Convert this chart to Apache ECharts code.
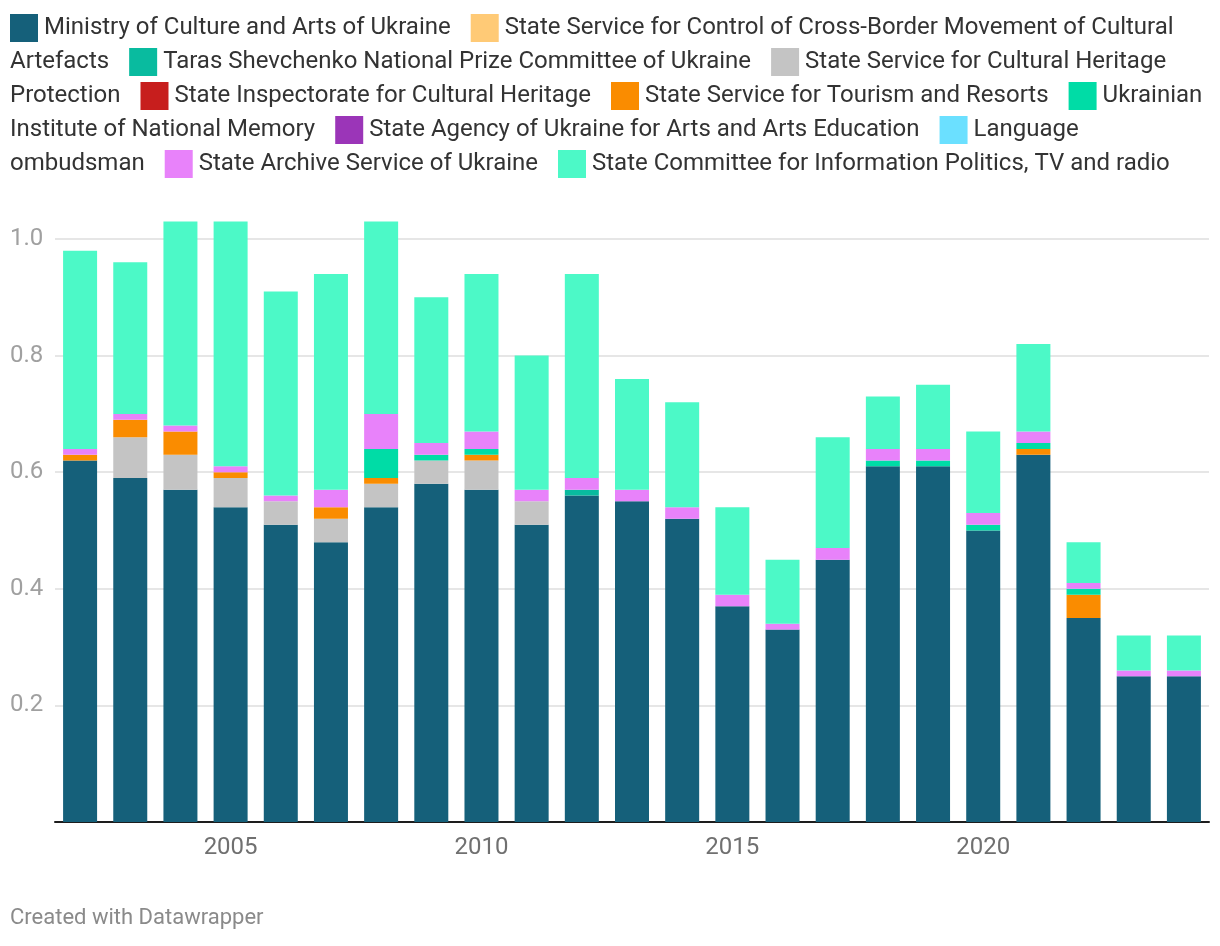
<!DOCTYPE html>
<html>
<head>
<meta charset="utf-8">
<script src="https://cdn.jsdelivr.net/npm/echarts@6/dist/echarts.min.js"></script>
<style>
html,body{margin:0;padding:0;background:#fff;}
#chart{width:1220px;height:946px;}
</style>
</head>
<body>
<div id="chart"></div>
<script>
const years = ['2002','2003','2004','2005','2006','2007','2008','2009','2010','2011','2012','2013','2014','2015','2016','2017','2018','2019','2020','2021','2022','2023','2024'];
const yTicks = [0, 0.2, 0.4, 0.6, 0.8, 1.0];

const seriesNames = [
  'Ministry of Culture and Arts of Ukraine',
  'State Service for Control of Cross-Border Movement of Cultural Artefacts',
  'Taras Shevchenko National Prize Committee of Ukraine',
  'State Service for Cultural Heritage Protection',
  'State Inspectorate for Cultural Heritage',
  'State Service for Tourism and Resorts',
  'Ukrainian Institute of National Memory',
  'State Agency of Ukraine for Arts and Arts Education',
  'Language ombudsman',
  'State Archive Service of Ukraine',
  'State Committee for Information Politics, TV and radio'
];
const seriesColors = ['#15607a','#ffca76','#09bb9f','#c4c4c4','#c71e1d','#fa8c00','#00dca6','#9b35b8','#6be0ff','#e882fa','#4cf9c7'];

const ministry   = [0.62,0.59,0.57,0.54,0.51,0.48,0.54,0.58,0.57,0.51,0.56,0.55,0.52,0.37,0.33,0.45,0.61,0.61,0.50,0.63,0.35,0.25,0.25];
const crossBorder= [0,0,0,0,0,0,0,0,0,0,0,0,0,0,0,0,0,0,0,0,0,0,0];
const shevchenko = [0,0,0,0,0,0,0,0,0,0,0.01,0,0,0,0,0,0,0,0,0,0,0,0];
const heritage   = [0,0.07,0.06,0.05,0.04,0.04,0.04,0.04,0.05,0.04,0,0,0,0,0,0,0,0,0,0,0,0,0];
const inspectorate=[0,0,0,0,0,0,0,0,0,0,0,0,0,0,0,0,0,0,0,0,0,0,0];
const tourism    = [0.01,0.03,0.04,0.01,0,0.02,0.01,0,0.01,0,0,0,0,0,0,0,0,0,0,0.01,0.04,0,0];
const memory     = [0,0,0,0,0,0,0.05,0.01,0.01,0,0,0,0,0,0,0,0.01,0.01,0.01,0.01,0.01,0,0];
const artsAgency = [0,0,0,0,0,0,0,0,0,0,0,0,0,0,0,0,0,0,0,0,0,0,0];
const ombudsman  = [0,0,0,0,0,0,0,0,0,0,0,0,0,0,0,0,0,0,0,0,0,0,0];
const archive    = [0.01,0.01,0.01,0.01,0.01,0.03,0.06,0.02,0.03,0.02,0.02,0.02,0.02,0.02,0.01,0.02,0.02,0.02,0.02,0.02,0.01,0.01,0.01];
const infoCommittee=[0.34,0.26,0.35,0.42,0.35,0.37,0.33,0.25,0.27,0.23,0.35,0.19,0.18,0.15,0.11,0.19,0.09,0.11,0.14,0.15,0.07,0.06,0.06];

const seriesData = [ministry, crossBorder, shevchenko, heritage, inspectorate, tourism, memory, artsAgency, ombudsman, archive, infoCommittee];

const FONT = 'Roboto, "Noto Sans", sans-serif';
const LEG_FS = 24;
const LEG_W = 1198;
const SQ_W = 28, GAP1 = 6, GAP2 = 20;

// Legend as flowing rich text (Datawrapper style), wrapped by measuring words
const mctx = document.createElement('canvas').getContext('2d');
mctx.font = LEG_FS + 'px ' + FONT;
const mw = s => mctx.measureText(s).width;

const rich = {
  t: { fontSize: LEG_FS, fontFamily: FONT, fill: '#333333', lineHeight: 34 },
  g1: { width: GAP1, height: 28, lineHeight: 34 },
  g2: { width: GAP2, height: 28, lineHeight: 34 }
};
seriesColors.forEach((c, i) => {
  rich['s' + i] = { width: SQ_W, height: 28, lineHeight: 34, backgroundColor: c };
});
const lines = [[]];
let cx = 0;
function curLine() { return lines[lines.length - 1]; }
function addText(str) {
  const L = curLine();
  if (L.length && L[L.length - 1].type === 't') L[L.length - 1].s += str;
  else L.push({ type: 't', s: str });
}
seriesNames.forEach((n, i) => {
  const words = n.split(' ');
  const firstW = SQ_W + GAP1 + mw(words[0]);
  if (cx > 0 && cx + GAP2 + firstW > LEG_W) { lines.push([]); cx = 0; }
  else if (cx > 0) { curLine().push({ type: 'g2' }); cx += GAP2; }
  curLine().push({ type: 's' + i });
  curLine().push({ type: 'g1' });
  addText(words[0]);
  cx += firstW;
  for (let k = 1; k < words.length; k++) {
    const ww = mw(' ' + words[k]);
    if (cx + ww > LEG_W) { lines.push([]); cx = 0; addText(words[k]); cx += mw(words[k]); }
    else { addText(' ' + words[k]); cx += ww; }
  }
});
const legendText = lines.map(L => L.map(tk => tk.type === 't' ? '{t|' + tk.s + '}' : '{' + tk.type + '|}').join('')).join('\n');

const chart = echarts.init(document.getElementById('chart'), null, { renderer: 'canvas' });
chart.setOption({
  animation: false,
  backgroundColor: '#ffffff',
  textStyle: { fontFamily: FONT },
  grid: { left: 55, right: 11, top: 239, bottom: 124, containLabel: false },
  xAxis: {
    type: 'category',
    data: years,
    axisLine: { show: true, lineStyle: { color: '#1d1d1d', width: 2 } },
    axisTick: { show: false },
    axisLabel: {
      interval: (idx, val) => (+val) % 5 === 0,
      color: '#707070',
      fontSize: 24,
      fontFamily: FONT,
      margin: 14
    }
  },
  yAxis: {
    type: 'value',
    min: yTicks[0],
    max: yTicks[yTicks.length - 1],
    interval: 0.2,
    axisLine: { show: false },
    axisTick: { show: false },
    splitLine: { lineStyle: { color: '#e6e6e6', width: 2 } },
    axisLabel: {
      formatter: v => (v === 0 ? '' : v.toFixed(1)),
      color: '#a0a0a0',
      fontSize: 24,
      fontFamily: FONT,
      align: 'left',
      margin: 45
    }
  },
  series: seriesNames.map((name, i) => ({
    name: name,
    type: 'bar',
    stack: 'total',
    data: seriesData[i],
    barWidth: 34,
    clip: false,
    itemStyle: { color: seriesColors[i] },
    emphasis: { disabled: true }
  })),
  graphic: [
    {
      type: 'text',
      left: 10,
      top: 11,
      style: {
        text: legendText,
        fontSize: LEG_FS,
        fontFamily: FONT,
        fill: '#333333',
        lineHeight: 34,
        rich: rich
      }
    },
    {
      type: 'text',
      left: 10,
      top: 907,
      style: {
        text: 'Created with Datawrapper',
        fontSize: 22,
        fontFamily: FONT,
        fill: '#8a8a8a'
      }
    }
  ]
});
</script>
</body>
</html>
